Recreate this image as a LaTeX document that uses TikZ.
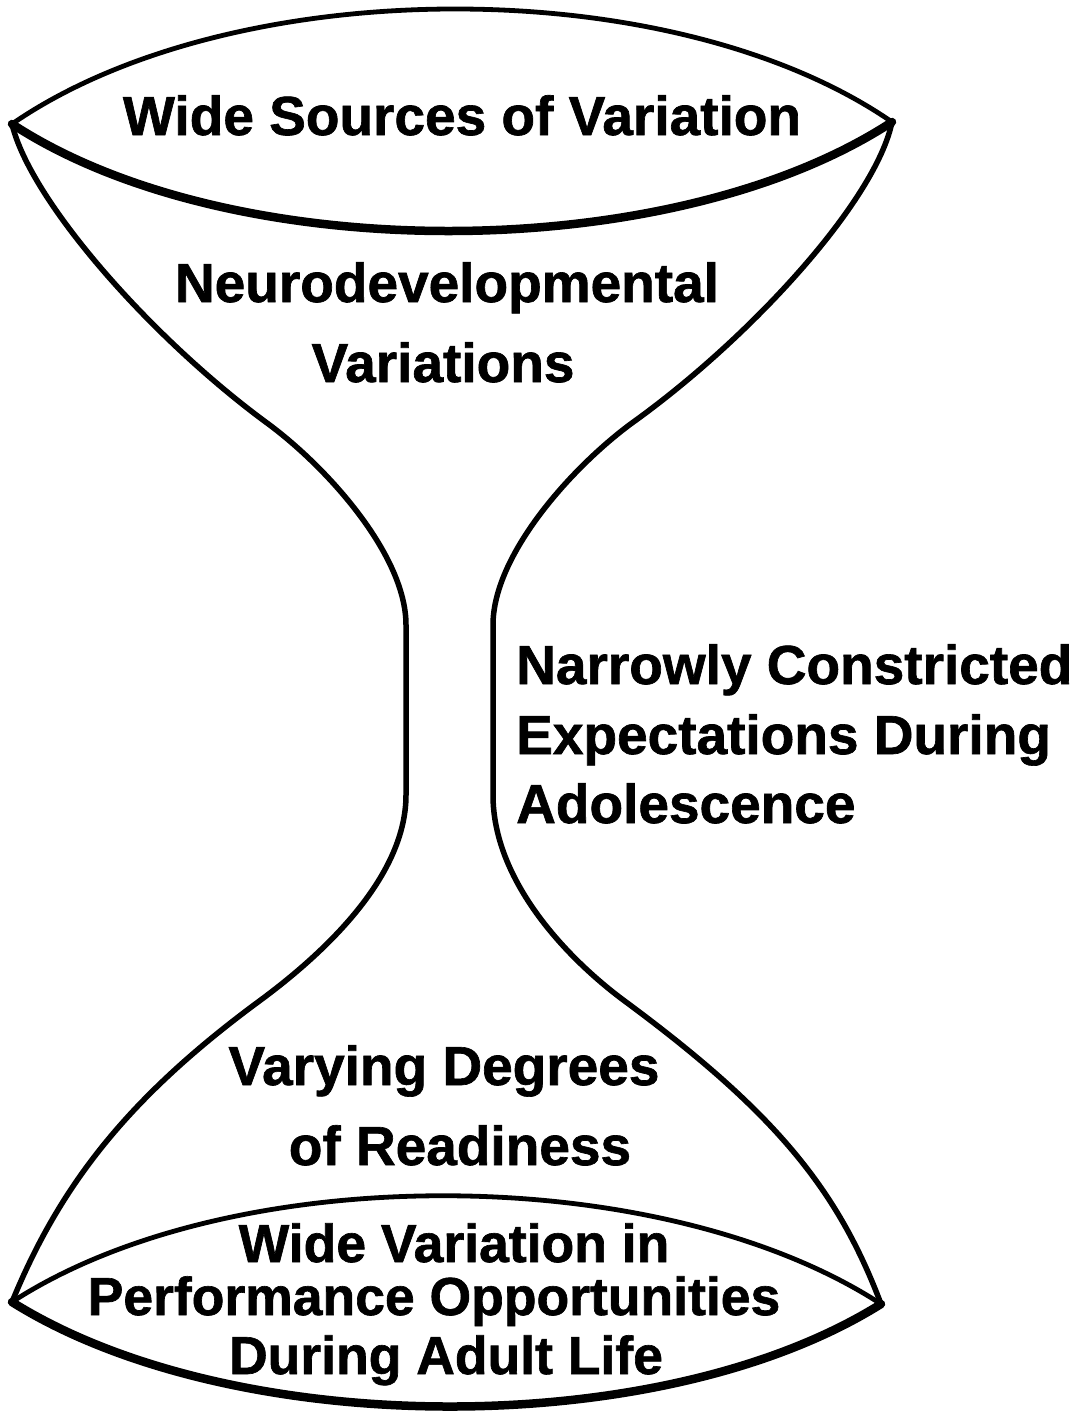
\documentclass[tikz,border=0pt]{standalone}
\usepackage{fontspec}
\setmainfont{Liberation Sans}[BoldFeatures={FakeBold=1.2}]
\begin{document}
\begin{tikzpicture}[x=1pt,y=-1pt,
  outline/.style={line width=5.5pt, line join=round, line cap=round},
  rim/.style={line width=4.8pt, line cap=round},
  heavyrim/.style={line width=8.5pt, line cap=round},
  lbl/.style={font=\fontsize{55}{60}\selectfont\bfseries, inner sep=0pt, anchor=base},
  lblsmall/.style={font=\fontsize{53.5}{58}\selectfont\bfseries, inner sep=0pt, anchor=base}]
\useasboundingbox (0,0) rectangle (1079,1413);

% corner points where the lenses meet the flanks
\coordinate (tl) at (12,124);
\coordinate (tr) at (892,122);
\coordinate (bl) at (12,1302);
\coordinate (br) at (881,1304);

% left flank of the hourglass
\draw[outline] (tl)
  .. controls (30,200) and (150,337) .. (267,423)
  .. controls (327,467) and (406,555) .. (406,625)
  -- (406,795)
  .. controls (406,880) and (318,958) .. (258,1002)
  .. controls (128,1098) and (60,1185) .. (bl);

% right flank of the hourglass
\draw[outline] (tr)
  .. controls (876,200) and (752,337) .. (632,423)
  .. controls (572,467) and (493,555) .. (493,625)
  -- (493,795)
  .. controls (493,880) and (566,958) .. (626,1002)
  .. controls (776,1113) and (838,1190) .. (br);

% upper lens
\draw[rim] (tl) .. controls (232,-28) and (672,-30) .. (tr);
\draw[heavyrim] (tl) .. controls (232,268) and (672,266) .. (tr);

% lower lens
\draw[rim] (bl) .. controls (232,1159) and (661,1161) .. (br);
\draw[heavyrim] (bl) .. controls (232,1440) and (661,1442) .. (br);

% labels
\node[lbl] (src) at (462,135) {Wide Sources of Variation};
\node[lbl] (neuroA) at (447,302) {Neurodevelopmental};
\node[lbl] (neuroB) at (443,382) {Variations};
\node[lbl, anchor=base west] (narrA) at (516,684) {Narrowly Constricted};
\node[lbl, anchor=base west] (narrB) at (516,754) {Expectations During};
\node[lbl, anchor=base west] (narrC) at (516,823) {Adolescence};
\node[lbl] (readyA) at (444,1085) {Varying Degrees};
\node[lbl] (readyB) at (460,1165) {of Readiness};
\node[lblsmall] (adultA) at (454,1262) {Wide Variation in};
\node[lblsmall] (adultB) at (434,1315) {Performance Opportunities};
\node[lblsmall] (adultC) at (446,1374) {During Adult Life};
\end{tikzpicture}
\end{document}
